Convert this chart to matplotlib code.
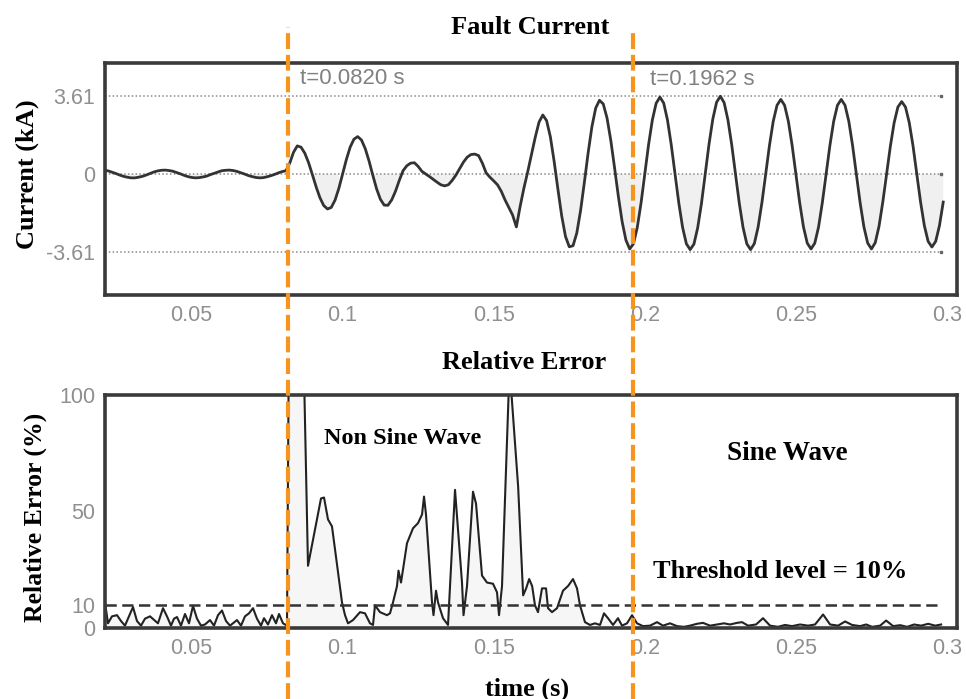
import numpy as np
import matplotlib.pyplot as plt
from matplotlib.lines import Line2D
from matplotlib.transforms import blended_transform_factory

plt.rcParams['axes.unicode_minus'] = False

# fault current (kA), sampled every 1.25 ms from t = 0.02 s
current_ka = [
    0.18, 0.17, 0.14, 0.08, 0.02, -0.05, -0.11, -0.15, -0.18, -0.18, -0.15, -0.11, -0.05, 0.02, 0.09, 0.14,
    0.17, 0.18, 0.16, 0.13, 0.07, 0.01, -0.06, -0.12, -0.16, -0.18, -0.17, -0.14, -0.10, -0.03, 0.03, 0.09,
    0.15, 0.17, 0.18, 0.16, 0.12, 0.06, 0.00, -0.07, -0.12, -0.16, -0.18, -0.17, -0.13, -0.08, -0.02, 0.05,
    0.11, 0.15, 0.50, 1.00, 1.30, 1.24, 0.96, 0.52, -0.03, -0.60, -1.10, -1.46, -1.62, -1.55, -1.21, -0.67,
    0.00, 0.67, 1.24, 1.61, 1.73, 1.57, 1.17, 0.60, -0.06, -0.69, -1.17, -1.44, -1.45, -1.20, -0.80, -0.30,
    0.15, 0.38, 0.50, 0.52, 0.35, 0.12, 0.00, -0.12, -0.25, -0.38, -0.50, -0.55, -0.50, -0.30, -0.05, 0.25,
    0.55, 0.78, 0.90, 0.92, 0.85, 0.50, 0.05, -0.15, -0.32, -0.50, -0.80, -1.20, -1.55, -1.90, -2.45, -1.50,
    -0.65, 0.10, 0.90, 1.70, 2.40, 2.73, 2.47, 1.72, 0.58, -0.71, -1.94, -2.89, -3.37, -3.32, -2.73, -1.69,
    -0.39, 0.98, 2.19, 3.05, 3.41, 3.24, 2.59, 1.55, 0.28, -1.04, -2.21, -3.06, -3.47, -3.23, -2.48, -1.35,
    0.00, 1.36, 2.50, 3.27, 3.56, 3.28, 2.50, 1.35, 0.00, -1.34, -2.47, -3.23, -3.50, -3.25, -2.49, -1.36,
    0.02, 1.38, 2.54, 3.32, 3.60, 3.30, 2.51, 1.36, 0.00, -1.34, -2.47, -3.23, -3.50, -3.22, -2.45, -1.33,
    0.00, 1.32, 2.44, 3.18, 3.45, 3.18, 2.44, 1.32, 0.00, -1.33, -2.45, -3.20, -3.47, -3.20, -2.45, -1.32,
    0.00, 1.32, 2.44, 3.18, 3.45, 3.18, 2.44, 1.32, 0.00, -1.33, -2.45, -3.20, -3.47, -3.18, -2.42, -1.30,
    0.00, 1.28, 2.37, 3.10, 3.35, 3.10, 2.38, 1.30, 0.00, -1.30, -2.39, -3.12, -3.38, -3.12, -2.39, -1.30,
]
t_current = np.round(0.02 + 0.00125 * np.arange(len(current_ka)), 5)

# relative error (%) of the sine fit
t_err = [
    0.02138, 0.02237, 0.02369, 0.02535, 0.02667, 0.02799, 0.02932, 0.03064, 0.03196, 0.03329,
    0.03461, 0.03627, 0.03759, 0.03891, 0.04057, 0.04189, 0.04321, 0.04421, 0.04520, 0.04652,
    0.04785, 0.04917, 0.05050, 0.05182, 0.05314, 0.05447, 0.05612, 0.05745, 0.05877, 0.06009,
    0.06142, 0.06274, 0.06373, 0.06506, 0.06638, 0.06770, 0.06903, 0.07035, 0.07167, 0.07300,
    0.07399, 0.07531, 0.07664, 0.07796, 0.07896, 0.08028, 0.08160, 0.08226, 0.08690, 0.08855,
    0.09285, 0.09385, 0.09517, 0.09649, 0.09980, 0.10080, 0.10179, 0.10344, 0.10576, 0.10741,
    0.10907, 0.11006, 0.11072, 0.11238, 0.11469, 0.11569, 0.11668, 0.11800, 0.11850, 0.11933,
    0.12131, 0.12330, 0.12495, 0.12628, 0.12694, 0.12760, 0.12959, 0.13008, 0.13091, 0.13157,
    0.13322, 0.13488, 0.13720, 0.13819, 0.13951, 0.14001, 0.14117, 0.14315, 0.14415, 0.14613,
    0.14778, 0.14977, 0.15110, 0.15176, 0.15275, 0.15524, 0.15809, 0.15974, 0.16073, 0.16173,
    0.16272, 0.16367, 0.16466, 0.16598, 0.16731, 0.16797, 0.16929, 0.17095, 0.17293, 0.17459,
    0.17624, 0.17757, 0.17856, 0.18021, 0.18187, 0.18352, 0.18518, 0.18650, 0.18782, 0.18948,
    0.19113, 0.19245, 0.19411, 0.19577, 0.19742, 0.19940, 0.20172, 0.20404, 0.20602, 0.20834,
    0.21066, 0.21298, 0.21496, 0.21728, 0.21926, 0.22158, 0.22390, 0.22622, 0.22820, 0.23052,
    0.23218, 0.23416, 0.23680, 0.23912, 0.24144, 0.24409, 0.24640, 0.24872, 0.25137, 0.25402,
    0.25634, 0.25899, 0.26131, 0.26396, 0.26628, 0.26860, 0.27124, 0.27323, 0.27522, 0.27787,
    0.27985, 0.28217, 0.28449, 0.28680, 0.28912, 0.29144, 0.29376, 0.29608, 0.29806,
]
err_pct = [
    11, 2, 5, 5.5, 3, 1, 5, 9, 3, 1,
    4, 5, 3.5, 2, 8.5, 5, 1, 4, 4.7, 1,
    6, 2, 9.5, 4, 1, 1.5, 3.4, 1, 5.5, 7.5,
    3, 1, 2, 3.4, 1, 5, 6.3, 8.5, 4, 1,
    4.2, 1.5, 5.5, 2, 6, 2, 1, 130, 130, 26.7,
    55.6, 56, 46.6, 43.6, 11, 5.5, 2, 3.4, 6.8, 6.3,
    2, 1.3, 9.7, 6.8, 5.5, 6.3, 11, 18, 24.6, 19.5,
    36.4, 42.8, 45, 48.7, 56.4, 48.7, 11, 5.5, 16, 11,
    4.2, 1.3, 59.3, 42.4, 19.5, 5.5, 18, 58.5, 53.4, 22.5,
    19.5, 19, 15.3, 5.5, 18, 112, 60.6, 14, 17, 21,
    18, 9.7, 6.8, 17, 17, 8.5, 6.8, 8.5, 16, 18,
    21, 17, 9.7, 2.5, 1.3, 2, 1.3, 6.3, 4.2, 1.3,
    4.2, 1, 2, 5.5, 2, 0.8, 1, 2.5, 1, 2,
    0.8, 0.5, 1, 1.8, 2.2, 1, 1.5, 2, 1.5, 2.2,
    2.5, 1, 1.5, 4.2, 1, 0.5, 1.3, 0.8, 1.5, 1,
    1.5, 5.8, 1.5, 1, 2.8, 1.3, 0.8, 1.5, 0.5, 1,
    3.2, 0.8, 1.2, 0.5, 1.5, 1, 1.8, 1, 1.5,
]

peak_ka = 3.61
threshold = 10
t_fault = 0.0820
t_sine = 0.1962
x_ticks = [0.05, 0.1, 0.15, 0.2, 0.25, 0.3]
x_tick_labels = ['0.05', '0.1', '0.15', '0.2', '0.25', '0.3']

serif = 'Liberation Serif'
sans = 'Liberation Sans'
frame_col = '#3a3a3a'
tick_col = '#8f8f8f'
orange = '#F7941D'
xlim = (0.02138, 0.30331)

fig = plt.figure(figsize=(9.66, 6.99), dpi=100)
ax1 = fig.add_axes([0.1087, 0.578, 0.882, 0.332])
ax2 = fig.add_axes([0.1087, 0.1016, 0.882, 0.3333])

for ax in (ax1, ax2):
    ax.set_xlim(*xlim)
    ax.set_xticks(x_ticks)
    ax.set_xticklabels(x_tick_labels)
    ax.tick_params(length=0, labelsize=15.5, labelcolor=tick_col, pad=7)
    for lab in ax.get_xticklabels() + ax.get_yticklabels():
        lab.set_fontfamily(sans)
    for sp in ax.spines.values():
        sp.set_color(frame_col)
        sp.set_linewidth(2.6)

# current waveform
ax1.set_ylim(-5.6, 5.14)
ax1.set_yticks([-peak_ka, 0, peak_ka])
ax1.set_yticklabels(['-3.61', '0', '3.61'], fontfamily=sans)
ax1.hlines([-peak_ka, 0, peak_ka], xlim[0], 0.298, colors='#8a8a8a',
           linestyles=(0, (1, 1.5)), linewidth=1.1)
ax1.plot([0.298] * 3, [-peak_ka, 0, peak_ka], 's', color='#666666', ms=2)
cur = np.array(current_ka)
ax1.fill_between(t_current, cur, 0, where=cur < 0, color='#f0f0f0', lw=0)
ax1.plot(t_current, cur, color='#333333', lw=2.0)

# relative error
ax2.set_ylim(0, 100)
ax2.set_yticks([0, 10, 50, 100])
ax2.set_yticklabels(['0', '10', '50', '100'], fontfamily=sans)
ax2.fill_between(t_err, err_pct, 0, color='#f6f6f6', lw=0)
ax2.plot(t_err, err_pct, color='#222222', lw=1.5)
ax2.hlines(threshold, xlim[0], 0.298, colors='#333333', linewidth=1.8,
           linestyles=(0, (4.5, 2.2)))

# fault inception / sine detection markers spanning both panels
trans = blended_transform_factory(ax1.transData, fig.transFigure)
for tx, top in ((t_fault, 0.962), (t_sine, 0.958)):
    fig.add_artist(Line2D([tx, tx], [0, top], transform=trans, color=orange,
                          lw=3.0, dashes=(3.8, 1.4), clip_on=False))

ax1.text(0.0859, 4.44, 't=0.0820 s', fontfamily=sans, fontsize=16,
         color='#808080', va='center')
ax1.text(0.2017, 4.35, 't=0.1962 s', fontfamily=sans, fontsize=16,
         color='#808080', va='center')

title_kw = dict(fontfamily=serif, fontweight='bold', fontsize=19,
                ha='center', va='center')
fig.text(530 / 966, 1 - 27 / 699, 'Fault Current', **title_kw)
fig.text(524 / 966, 1 - 363 / 699, 'Relative Error', **title_kw)
fig.text(27 / 966, 1 - 174 / 699, 'Current (kA)', rotation=90, **title_kw)
fig.text(35 / 966, 1 - 517 / 699, 'Relative Error (%)', rotation=90,
         fontfamily=serif, fontweight='bold', fontsize=18.5, ha='center', va='center')
fig.text(527 / 966, 1 - 689 / 699, 'time (s)', **title_kw)

fig.text(403 / 966, 1 - 438 / 699, 'Non Sine Wave', fontfamily=serif,
         fontweight='bold', fontsize=17.5, ha='center', va='center')
fig.text(787 / 966, 1 - 453 / 699, 'Sine Wave', fontfamily=serif,
         fontweight='bold', fontsize=19.5, ha='center', va='center')
fig.text(780 / 966, 1 - 572 / 699, 'Threshold level = 10%', fontfamily=serif,
         fontweight='bold', fontsize=19, ha='center', va='center')

fig.savefig('out.png', dpi=100)
